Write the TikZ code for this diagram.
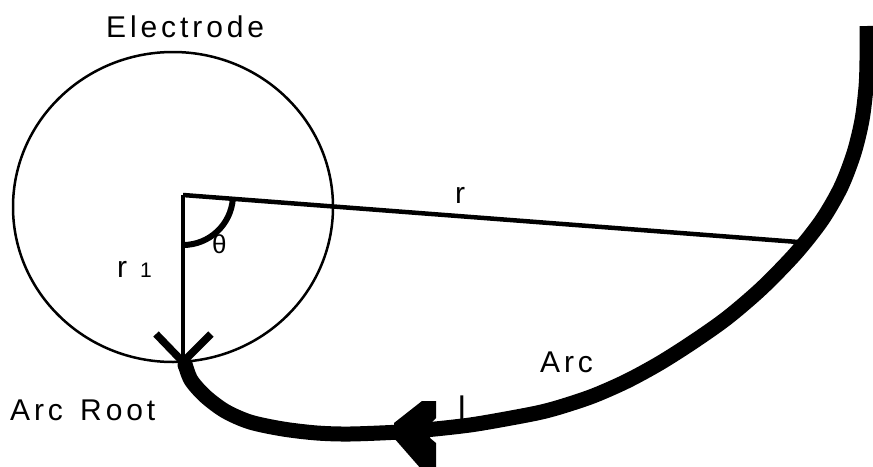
\documentclass[tikz,border=0pt]{standalone}
\usepackage{fontspec}
\setmainfont{Liberation Sans}[LetterSpace=13]
\begin{document}
\begin{tikzpicture}[x=1pt,y=1pt,
  lbl/.style={inner sep=0pt, anchor=base west, font=\fontsize{30}{36}\selectfont},
  thinline/.style={line width=2.5pt},
  ray/.style={line width=4.5pt},
  anglemark/.style={line width=6pt},
  barb/.style={line width=7.5pt, line cap=butt},
  band/.style={line width=15pt, line cap=butt, line join=round},
]
\useasboundingbox (0,0) rectangle (873,-466);
\fill[white] (0,0) rectangle (873,-466);
% key points
\coordinate (C) at (183,-195);
\coordinate (R) at (183,-362);
\coordinate (P) at (798,-242);
\coordinate (BL) at (156,-334);
\coordinate (BR) at (211,-334);
% electrode
\draw[thinline] (173,-207) ellipse [x radius=160, y radius=155];
% radii
\draw[ray] (C) -- (P);
\draw[ray] (C) -- (R);
% angle mark
\draw[anglemark] (C) ++(-4.4:50) arc[start angle=-4.4, end angle=-90, radius=50];
% arrow at the root
\draw[barb] (BL) -- (R) -- (BR);
% arc column
\draw[band] plot[smooth, tension=0.5] coordinates {
  (867,-26) (867,-60) (866,-87) (862,-120) (854,-153) (841,-187) (822,-220)
  (796,-253) (762,-288) (727,-318) (693,-342) (660,-363) (627,-381)
  (593,-396) (560,-407) (537,-413) (500,-420) (470,-425) (435,-429)
  (400,-432) (350,-434) (317,-433) (283,-429)
  (250,-422) (225,-411) (205,-396) (191,-380) (185,-364)};
\fill (185,-365) circle[radius=7.5];
% fletched arrowhead on the arc
\fill (394,-423) -- (422,-401) -- (436,-401) -- (436,-418) -- (430,-424)
  -- (430,-438) -- (436,-443) -- (436,-470) -- (422,-470) -- (394,-438) -- cycle;
% labels
\node[lbl] (electrode) at (106,-37) {Electrode};
\node[lbl] (rlabel) at (455,-203) {r};
\node[lbl] (r1) at (117,-277) {r};
\node[lbl, font=\fontsize{21}{25}\selectfont] (one) at (140,-277) {1};
\node[lbl, font=\fontsize{26}{30}\selectfont] (theta) at (212,-253) {θ};
\node[lbl, font=\fontsize{34}{40}\selectfont] (ell) at (458,-420) {l};
\node[lbl] (arc) at (540,-372) {Arc};
\node[lbl] (root) at (10,-420) {Arc\hspace{5pt} Root};
\end{tikzpicture}
\end{document}
